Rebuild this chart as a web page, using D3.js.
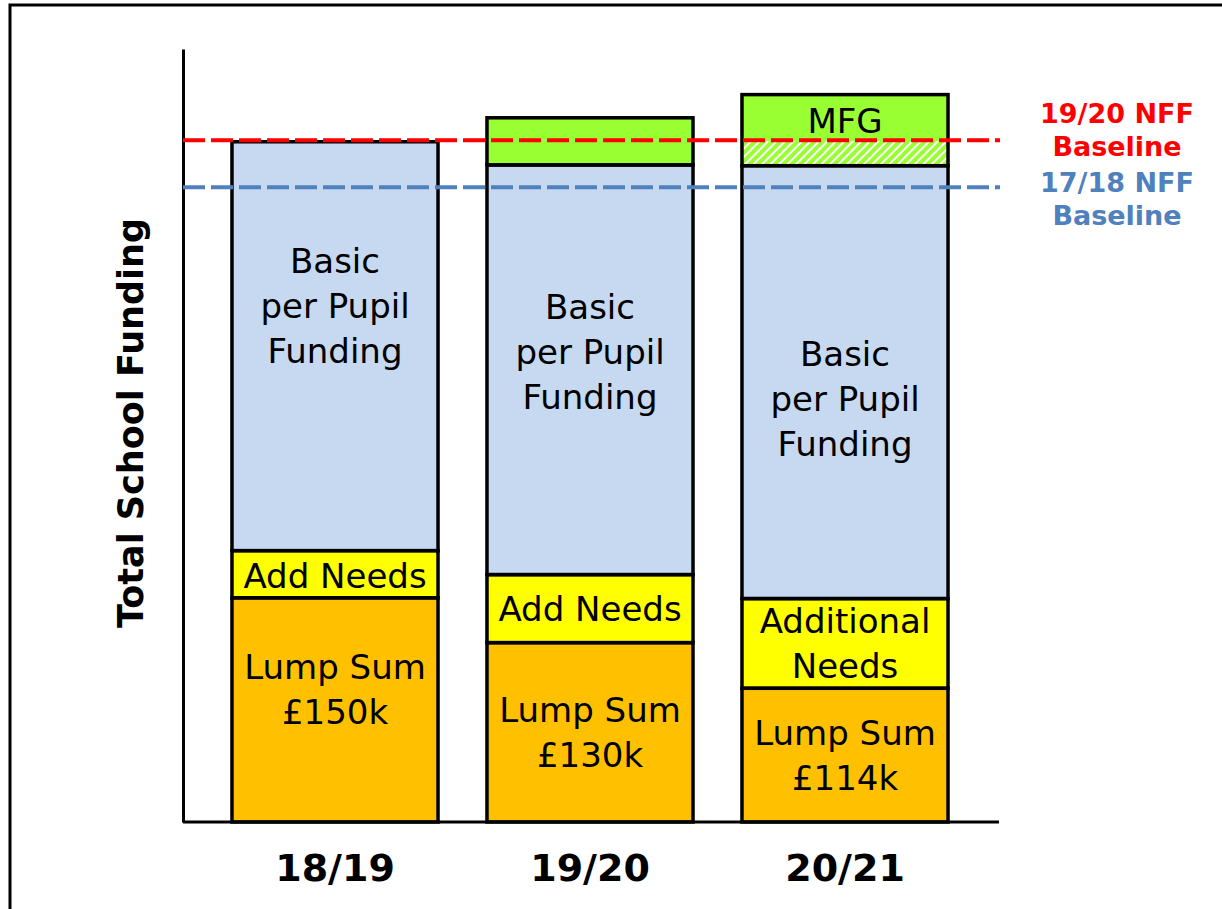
<!DOCTYPE html>
<html>
<head>
<meta charset="utf-8">
<script src="https://cdn.jsdelivr.net/npm/d3@7"></script>
<style>
  body { margin: 0; background: #fff; }
  text { font-family: "DejaVu Sans", Verdana, sans-serif; }
</style>
</head>
<body>
<div id="chart"></div>
<script>
// funding years on the x axis
var years = ["18/19", "19/20", "20/21"];

// stacked parts of each bar (relative units, axis has no scale)
var lumpSum = [29.0, 23.2, 17.3];
var addNeeds = [6.1, 8.8, 11.6];
var basicPerPupil = [52.9, 53.0, 56.0];
var mfgHatched = [0, 0, 3.2];
var mfgSolid = [0, 6.1, 6.0];

// segment labels (one line per array item)
var lumpLabels = [["Lump Sum", "£150k"], ["Lump Sum", "£130k"], ["Lump Sum", "£114k"]];
var needsLabels = [["Add Needs"], ["Add Needs"], ["Additional", "Needs"]];
var basicLabels = [["Basic", "per Pupil", "Funding"], ["Basic", "per Pupil", "Funding"], ["Basic", "per Pupil", "Funding"]];
var mfgLabels = [[], [], ["MFG"]];

// baselines
var baselineNames = [["19/20 NFF", "Baseline"], ["17/18 NFF", "Baseline"]];
var baselineValues = [88.2, 82.1];
var baselineColors = ["#ff0000", "#4f81bd"];

var width = 1222, height = 909;
var margin = {left: 183, bottom: 822, top: 49, right: 999};

var svg = d3.select("#chart").append("svg")
    .attr("width", width)
    .attr("height", height);

// hatch pattern for the part of the MFG under the new baseline
var pattern = svg.append("defs").append("pattern")
    .attr("id", "hatch")
    .attr("patternUnits", "userSpaceOnUse")
    .attr("width", 6)
    .attr("height", 6)
    .attr("patternTransform", "rotate(45)");
pattern.append("rect").attr("width", 6).attr("height", 6).attr("fill", "#99ff33");
pattern.append("rect").attr("x", 0).attr("width", 2).attr("height", 6).attr("fill", "#ffffff");

// frame (left and top only)
svg.append("path")
    .attr("d", "M10,909 L10,5 L1222,5")
    .attr("fill", "none")
    .attr("stroke", "#000")
    .attr("stroke-width", 3);

var x = d3.scaleBand()
    .domain(years)
    .range([207.5, 972.5])
    .paddingInner(0.192)
    .paddingOuter(0.096);

var y = d3.scaleLinear()
    .domain([0, 100])
    .range([margin.bottom, margin.top]);

var keys = ["lump", "needs", "basic", "hatch", "mfg"];
var colors = {lump: "#ffc000", needs: "#ffff00", basic: "#c6d9f1", hatch: "url(#hatch)", mfg: "#99ff33"};

var table = years.map(function (d, i) {
    return {year: d, lump: lumpSum[i], needs: addNeeds[i], basic: basicPerPupil[i], hatch: mfgHatched[i], mfg: mfgSolid[i]};
});

var series = d3.stack().keys(keys)(table);

// fills
var layers = svg.append("g").selectAll("g")
    .data(series)
    .join("g")
    .attr("fill", function (s) { return colors[s.key]; });

layers.selectAll("rect")
    .data(function (s) { return s; })
    .join("rect")
    .attr("x", function (d) { return x(d.data.year); })
    .attr("width", x.bandwidth())
    .attr("y", function (d) { return y(d[1]); })
    .attr("height", function (d) { return y(d[0]) - y(d[1]); });

// outlines: hatched part and solid MFG share one outline
var outlines = [];
table.forEach(function (row, i) {
    var base = 0;
    [["lump"], ["needs"], ["basic"], ["hatch", "mfg"]].forEach(function (group) {
        var v = d3.sum(group, function (k) { return row[k]; });
        if (v > 0) outlines.push({year: row.year, y0: base, y1: base + v});
        base += v;
    });
});

svg.append("g").selectAll("rect")
    .data(outlines)
    .join("rect")
    .attr("x", function (d) { return x(d.year); })
    .attr("width", x.bandwidth())
    .attr("y", function (d) { return y(d.y1); })
    .attr("height", function (d) { return y(d.y0) - y(d.y1); })
    .attr("fill", "none")
    .attr("stroke", "#000")
    .attr("stroke-width", 3.5);

// segment labels
var labelSets = {lump: lumpLabels, needs: needsLabels, basic: basicLabels, mfg: mfgLabels};
var labelShift = {lump: [-20, 0, 0], needs: [2, 0, 0], basic: [-40, -18, 17], mfg: [0, 0, 3]};
var lineHeight = 45;

series.forEach(function (s) {
    if (!labelSets[s.key]) return;
    s.forEach(function (d, i) {
        var lines = labelSets[s.key][i];
        if (!lines.length) return;
        var cy = (y(d[0]) + y(d[1])) / 2 + labelShift[s.key][i];
        var t = svg.append("text")
            .attr("x", x(d.data.year) + x.bandwidth() / 2)
            .attr("text-anchor", "middle")
            .attr("font-size", 34)
            .attr("fill", "#000");
        lines.forEach(function (line, j) {
            t.append("tspan")
                .attr("x", x(d.data.year) + x.bandwidth() / 2)
                .attr("y", cy + (j - (lines.length - 1) / 2) * lineHeight + 12)
                .text(line);
        });
    });
});

// axes
svg.append("g")
    .attr("transform", "translate(" + margin.left + ",0)")
    .call(d3.axisLeft(y).tickValues([]).tickSizeOuter(0))
    .select(".domain").attr("stroke-width", 3);

var xAxis = svg.append("g")
    .attr("transform", "translate(0," + margin.bottom + ")")
    .call(d3.axisBottom(x).tickSize(0).tickSizeOuter(0));
xAxis.select(".domain")
    .attr("d", "M" + margin.left + ",0H" + margin.right)
    .attr("stroke-width", 3);
xAxis.selectAll(".tick text")
    .attr("dy", 0)
    .attr("y", 59)
    .attr("font-size", 38)
    .attr("font-weight", "bold")
    .attr("font-family", "DejaVu Sans, Verdana, sans-serif")
    .attr("fill", "#000");

// baselines
var labelTop = [-17, 5];
baselineValues.forEach(function (v, i) {
    svg.append("line")
        .attr("x1", margin.left)
        .attr("x2", margin.right + 1)
        .attr("y1", y(v))
        .attr("y2", y(v))
        .attr("stroke", baselineColors[i])
        .attr("stroke-width", 4)
        .attr("stroke-dasharray", "22,6");

    var t = svg.append("text")
        .attr("text-anchor", "middle")
        .attr("font-size", 27)
        .attr("font-weight", "bold")
        .attr("fill", baselineColors[i]);
    baselineNames[i].forEach(function (line, j) {
        t.append("tspan")
            .attr("x", 1117)
            .attr("y", y(v) + labelTop[i] + j * 33)
            .text(line);
    });
});

// y title
svg.append("text")
    .attr("transform", "translate(143,423) rotate(-90)")
    .attr("text-anchor", "middle")
    .attr("font-size", 35)
    .attr("font-weight", "bold")
    .attr("fill", "#000")
    .text("Total School Funding");
</script>
</body>
</html>
